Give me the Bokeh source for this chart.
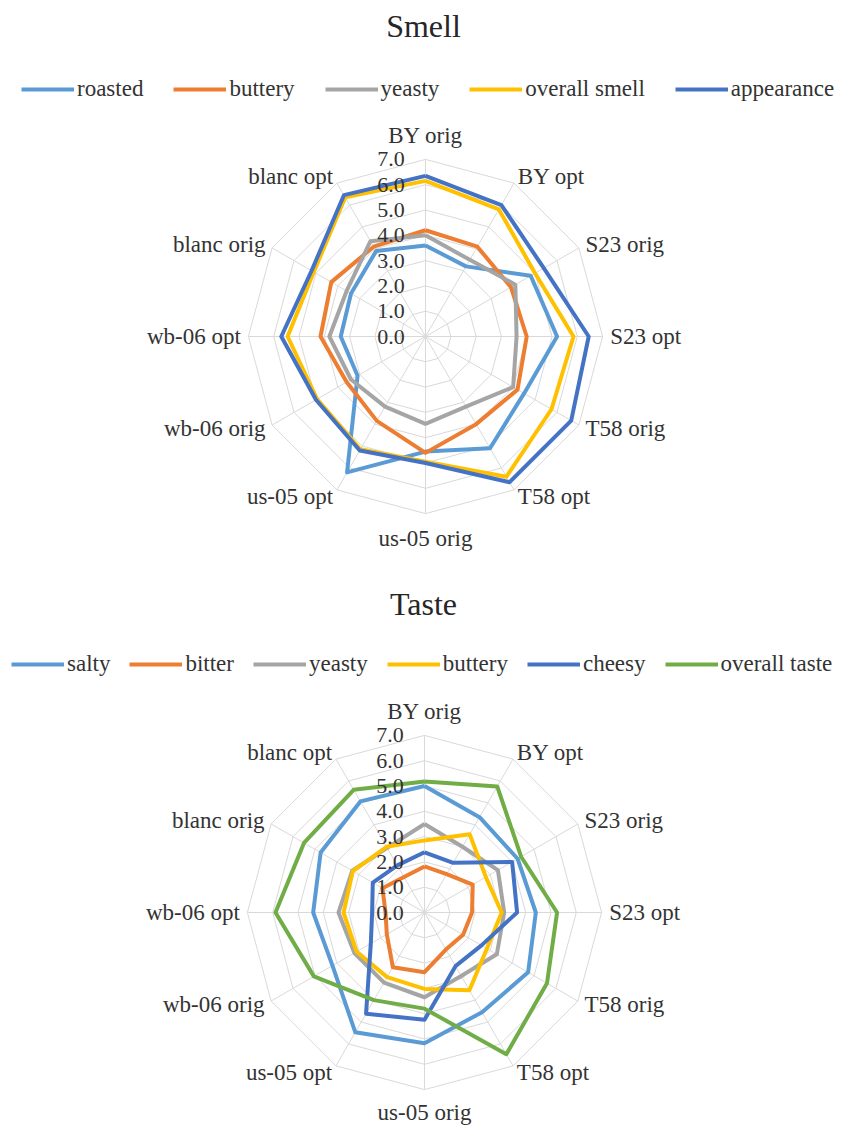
import numpy as np
from bokeh.plotting import figure
from bokeh.models import Legend, LegendItem, Range1d
from bokeh.layouts import column
from bokeh.embed import file_html
from bokeh.resources import INLINE
from bokeh.core.properties import value

categories = ["BY orig", "BY opt", "S23 orig", "S23 opt", "T58 orig", "T58 opt",
              "us-05 orig", "us-05 opt", "wb-06 orig", "wb-06 opt", "blanc orig", "blanc opt"]
tick_values = [0, 1, 2, 3, 4, 5, 6, 7]
tick_labels = ["0.0", "1.0", "2.0", "3.0", "4.0", "5.0", "6.0", "7.0"]

# Smell
smell_names = ["roasted", "buttery", "yeasty", "overall smell", "appearance"]
smell_roasted = [3.6, 3.2, 4.8, 5.2, 4.5, 5.1, 4.55, 6.2, 3.1, 3.35, 3.4, 3.9]
smell_buttery = [4.2, 4.1, 3.9, 4.0, 4.2, 4.0, 4.6, 3.85, 3.6, 4.15, 4.3, 4.1]
smell_yeasty = [4.0, 3.5, 4.1, 3.6, 4.0, 3.2, 3.45, 3.2, 3.4, 3.8, 3.6, 4.35]
smell_overall = [6.15, 5.8, 5.0, 5.85, 5.75, 6.4, 4.95, 5.15, 4.95, 5.45, 5.1, 6.35]
smell_appearance = [6.35, 6.0, 5.4, 6.45, 6.65, 6.65, 5.0, 5.2, 5.0, 5.7, 5.2, 6.45]

# Taste
taste_names = ["salty", "bitter", "yeasty", "buttery", "cheesy", "overall taste"]
taste_salty = [5.0, 4.35, 4.25, 4.4, 4.73, 4.55, 5.17, 5.47, 4.2, 4.4, 4.74, 5.07]
taste_bitter = [1.82, 1.75, 2.2, 1.88, 1.76, 1.69, 2.36, 2.5, 1.72, 1.54, 1.92, 1.62]
taste_yeasty = [3.5, 3.0, 3.35, 3.15, 3.3, 2.9, 3.35, 3.2, 3.2, 3.4, 3.3, 2.95]
taste_buttery = [2.85, 3.57, 2.8, 3.05, 2.85, 3.55, 3.02, 2.95, 3.1, 3.2, 3.27, 3.0]
taste_cheesy = [2.38, 2.27, 4.0, 3.66, 2.6, 2.45, 4.24, 4.62, 2.45, 2.07, 2.36, 2.15]
taste_overall = [5.18, 5.75, 4.41, 5.24, 5.59, 6.47, 3.8, 4.0, 5.05, 5.89, 5.5, 5.6]

SMELL_COLORS = ["#5B9BD5", "#ED7D31", "#A5A5A5", "#FFC000", "#4472C4"]
TASTE_COLORS = ["#5B9BD5", "#ED7D31", "#A5A5A5", "#FFC000", "#4472C4", "#70AD47"]

FONT = "Liberation Serif"
TXT = "#333333"
GRID = "#D9D9D9"
S = 25.3          # px per unit
W = 846           # frame width
TITLE_H = 48      # measured title panel height


def radar(title, names, series, colors, fig_top, fig_h, cx_page, cy_page,
          legend_x, legend_cy_page, bottom_r, leg_spacing):
    frame_h = fig_h - TITLE_H
    frame_top = fig_top + TITLE_H
    cx = cx_page
    cy_top = cy_page - frame_top
    p = figure(frame_width=W, frame_height=frame_h, output_backend="svg",
               toolbar_location=None, x_axis_type=None, y_axis_type=None,
               min_border=0, outline_line_color=None,
               x_range=Range1d(-cx / S, (W - cx) / S),
               y_range=Range1d(-(frame_h - cy_top) / S, cy_top / S))
    p.grid.visible = False
    p.title.text = title
    p.title.align = "center"
    p.title.text_font = FONT
    p.title.text_font_size = "32px"
    p.title.text_font_style = "normal"
    p.title.text_color = "#262626"

    n = len(categories)
    ang = np.arange(n) * 2 * np.pi / n
    sx, cy = np.sin(ang), np.cos(ang)
    # rings
    rx, ry = [], []
    for r in tick_values[1:]:
        rx.append(list(np.append(r * sx, r * sx[0])))
        ry.append(list(np.append(r * cy, r * cy[0])))
    p.multi_line(rx, ry, line_color=GRID, line_width=1)
    # spokes
    top = tick_values[-1]
    p.multi_line([[0, top * a] for a in sx], [[0, top * b] for b in cy],
                 line_color=GRID, line_width=1)

    items = []
    for name, vals, col in zip(names, series, colors):
        v = np.array(vals)
        xs = np.append(v * sx, v[0] * sx[0])
        ys = np.append(v * cy, v[0] * cy[0])
        r = p.line(xs, ys, line_color=col, line_width=4, line_join="round")
        items.append(LegendItem(label=name, renderers=[r]))

    # tick labels
    p.text(x=[-0.82] * len(tick_values), y=tick_values, text=tick_labels,
           text_font=value(FONT), text_font_size="22px", text_color=TXT,
           text_align="right", text_baseline="middle")

    # category labels
    lx, ly, la, lb = [], [], [], []
    for i, c in enumerate(categories):
        if i == 0:
            r, al, bl = 7.45, "center", "bottom"
        elif i == n // 2:
            r, al, bl = bottom_r, "center", "top"
        elif i < n // 2:
            r, al, bl = 7.3, "left", "middle"
        else:
            r, al, bl = 7.3, "right", "middle"
        lx.append(r * sx[i]); ly.append(r * cy[i]); la.append(al); lb.append(bl)
    for al, bl in sorted(set(zip(la, lb))):
        idx = [k for k in range(n) if la[k] == al and lb[k] == bl]
        p.text(x=[lx[k] for k in idx], y=[ly[k] for k in idx],
               text=[categories[k] for k in idx], text_font=value(FONT),
               text_font_size="23px", text_color=TXT,
               text_align=al, text_baseline=bl)

    leg_h = 24
    leg_bottom = frame_h - (legend_cy_page - frame_top) - leg_h / 2
    legend = Legend(items=items, orientation="horizontal",
                    location=(legend_x, leg_bottom),
                    label_text_font=FONT, label_text_font_size="23px",
                    label_text_color=TXT, glyph_width=53, glyph_height=leg_h,
                    label_height=leg_h, label_width=0, label_standoff=3,
                    spacing=leg_spacing, padding=0, margin=0,
                    border_line_alpha=0, background_fill_alpha=0)
    p.add_layout(legend)
    return p


p1 = radar("Smell", smell_names,
           [smell_roasted, smell_buttery, smell_yeasty, smell_overall, smell_appearance],
           SMELL_COLORS, 0, 578, 425, 336, 21, 90, 7.5, 30)
p2 = radar("Taste", taste_names,
           [taste_salty, taste_bitter, taste_yeasty, taste_buttery, taste_cheesy, taste_overall],
           TASTE_COLORS, 578, 548, 424, 912, 11, 665, 7.4, 19)

p = column(p1, p2, spacing=0)
open("out.html", "w").write(file_html(p, INLINE))
